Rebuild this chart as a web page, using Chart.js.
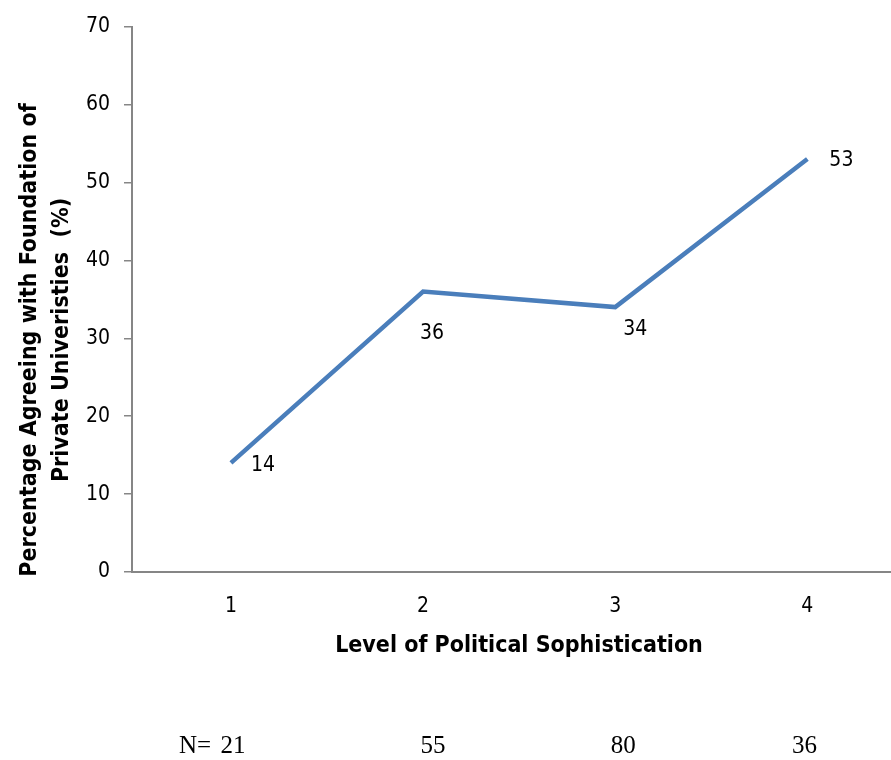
<!DOCTYPE html>
<html><head><meta charset="utf-8">
<script src="https://cdn.jsdelivr.net/npm/chart.js@4"></script>
<style>html,body{margin:0;padding:0;background:#fff}#wrap{width:891px;height:760px}</style>
</head><body><div id="wrap"><canvas id="c" width="891" height="760"></canvas></div>
<script>
const levels = [1, 2, 3, 4];
const pctAgree = [14, 36, 34, 53];
const nCounts = [21, 55, 80, 36];
const yTicks = [0, 10, 20, 30, 40, 50, 60, 70];
const yTitleLines = ['Percentage Agreeing with Foundation of', 'Private Univeristies  (%)'];
const xTitle = 'Level of Political Sophistication';

const NARROW = '"Liberation Sans Narrow", "Arial Narrow", "DejaVu Sans Condensed", sans-serif';
const axisGray = '#868686';

const labelOffsets = [[32, 3], [9, 42], [20, 22], [34, 1]];
const nOffsets = [2, 10, 8, -3];

const extras = {
  id: 'extras',
  afterDatasetsDraw(chart) {
    const ctx = chart.ctx, xs = chart.scales.x, ys = chart.scales.y;
    ctx.save();
    ctx.fillStyle = '#000';
    ctx.font = '21px ' + NARROW;
    ctx.textAlign = 'center'; ctx.textBaseline = 'middle';
    pctAgree.forEach((v, i) => {
      const px = xs.getPixelForValue(levels[i]), py = ys.getPixelForValue(v);
      ctx.fillText(String(v), px + labelOffsets[i][0], py + labelOffsets[i][1]);
    });
    // x title
    ctx.font = 'bold 23px ' + NARROW;
    ctx.fillText(xTitle, 519, 646);
    // y title
    ctx.save();
    ctx.font = 'bold 23px ' + NARROW;
    ctx.translate(30, 340); ctx.rotate(-Math.PI / 2);
    ctx.fillText(yTitleLines[0], 0, 0);
    ctx.fillText(yTitleLines[1], 0, 32);
    ctx.restore();
    // N row
    ctx.font = '25px "Liberation Serif", "Times New Roman", serif';
    ctx.textAlign = 'left';
    ctx.fillText('N=', 179, 746);
    ctx.textAlign = 'center';
    nCounts.forEach((n, i) => {
      ctx.fillText(String(n), xs.getPixelForValue(levels[i]) + nOffsets[i], 746);
    });
    ctx.restore();
  }
};

new Chart(document.getElementById('c'), {
  type: 'line',
  data: {
    datasets: [{
      data: levels.map((l, i) => ({ x: l, y: pctAgree[i] })),
      borderColor: '#4a7ebb',
      borderWidth: 4.5,
      pointRadius: 0,
      tension: 0,
      fill: false
    }]
  },
  options: {
    responsive: false,
    animation: false,
    devicePixelRatio: 1,
    layout: { padding: { left: 0, top: 24, right: 1, bottom: 0 } },
    plugins: { legend: { display: false }, tooltip: { enabled: false } },
    scales: {
      x: {
        type: 'linear',
        min: 0.485, max: 4.43,
        afterBuildTicks(s) { s.ticks = levels.map(v => ({ value: v })); },
        afterFit(s) { s.height = 188; },
        grid: { display: false },
        border: { display: true, color: axisGray, width: 2 },
        ticks: { color: '#000', font: { family: NARROW, size: 21 }, padding: 14, maxRotation: 0 }
      },
      y: {
        min: 0, max: 70,
        afterBuildTicks(s) { s.ticks = yTicks.map(v => ({ value: v })); },
        afterFit(s) { s.width = 132; },
        grid: { drawOnChartArea: false, tickLength: 8, color: axisGray, lineWidth: 1.5 },
        border: { display: true, color: axisGray, width: 2 },
        ticks: { color: '#000', font: { family: NARROW, size: 21 }, padding: 14 }
      }
    }
  },
  plugins: [extras]
});
</script></body></html>
